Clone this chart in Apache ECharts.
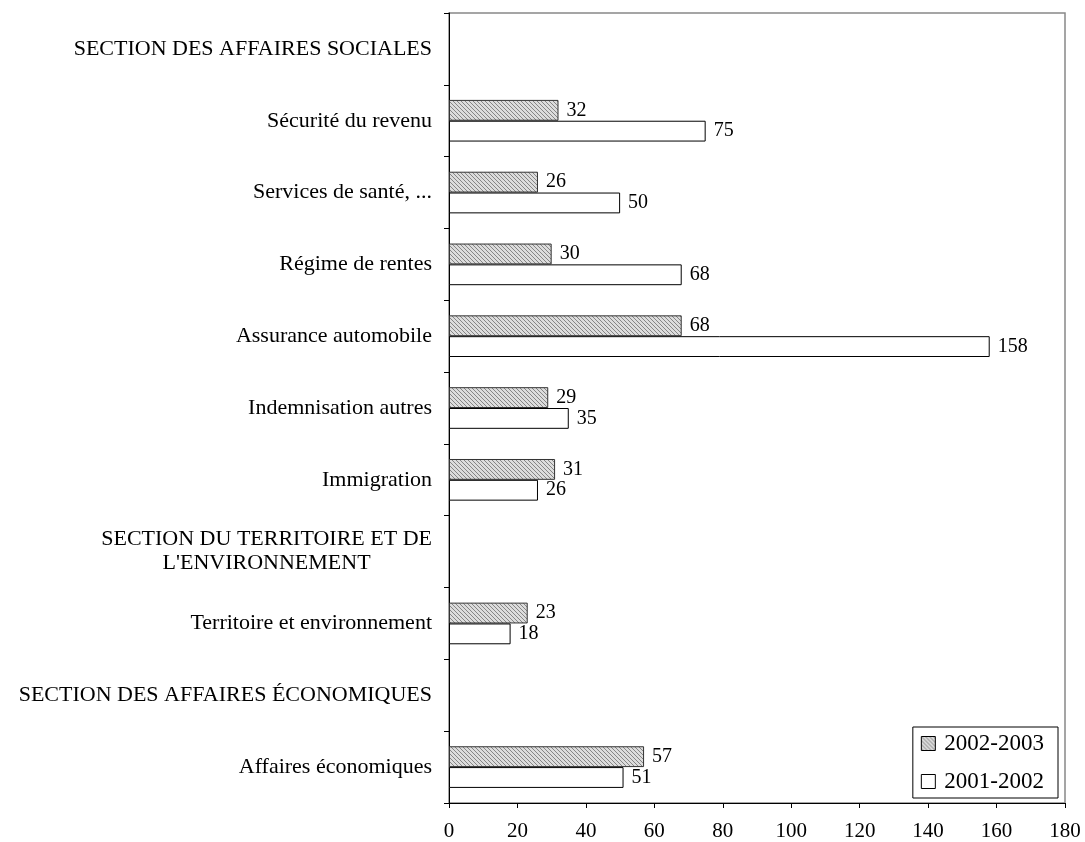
<!DOCTYPE html>
<html>
<head>
<meta charset="utf-8">
<script src="https://cdn.jsdelivr.net/npm/echarts@6/dist/echarts.min.js"></script>
<style>
html,body{margin:0;padding:0;background:#fff;}
#chart{width:1085px;height:842px;}
</style>
</head>
<body>
<div id="chart"></div>
<script>
const categories = [
  'SECTION DES AFFAIRES SOCIALES',
  'Sécurité du revenu',
  'Services de santé, ...',
  'Régime de rentes',
  'Assurance automobile',
  'Indemnisation autres',
  'Immigration',
  "SECTION DU TERRITOIRE ET DE\nL'ENVIRONNEMENT",
  'Territoire et environnement',
  'SECTION DES AFFAIRES ÉCONOMIQUES',
  'Affaires économiques'
];
const seriesNames = ['2002-2003', '2001-2002'];
const values2002_2003 = [null, 32, 26, 30, 68, 29, 31, null, 23, null, 57];
const values2001_2002 = [null, 75, 50, 68, 158, 35, 26, null, 18, null, 51];
const xTicks = [0, 20, 40, 60, 80, 100, 120, 140, 160, 180];

function makeHatch() {
  const c = document.createElement('canvas');
  c.width = 4; c.height = 4;
  const ctx = c.getContext('2d');
  ctx.fillStyle = '#dcdcdc';
  ctx.fillRect(0, 0, 4, 4);
  ctx.fillStyle = '#858585';
  for (let i = 0; i < 4; i++) ctx.fillRect(i, i, 1, 1);
  return c;
}
const hatch = {image: makeHatch(), repeat: 'repeat'};
const FONT = '"Liberation Serif", "DejaVu Serif", serif';

const chart = echarts.init(document.getElementById('chart'));
chart.setOption({
  animation: false,
  backgroundColor: '#fff',
  grid: {left: 449, right: 20, top: 13, bottom: 38, show: true, borderColor: '#888', borderWidth: 1.5, backgroundColor: 'transparent'},
  legend: {
    data: seriesNames,
    orient: 'vertical',
    right: 27, bottom: 44,
    icon: 'rect',
    itemWidth: 14, itemHeight: 14,
    itemGap: 15,
    padding: [5, 14, 5, 8],
    borderColor: '#000', borderWidth: 1,
    backgroundColor: '#fff',
    textStyle: {fontFamily: FONT, fontSize: 23, color: '#000', padding: [0, 0, 0, 4]},
    itemStyle: {borderColor: '#000', borderWidth: 1}
  },
  xAxis: {
    type: 'value', min: xTicks[0], max: xTicks[xTicks.length - 1], interval: xTicks[1] - xTicks[0],
    axisLine: {show: true, lineStyle: {color: '#000', width: 1}},
    axisTick: {show: true, length: 5, lineStyle: {color: '#000'}},
    splitLine: {show: false},
    axisLabel: {fontFamily: FONT, fontSize: 21, color: '#000', margin: 18}
  },
  yAxis: {
    type: 'category', data: categories, inverse: true,
    axisLine: {show: true, lineStyle: {color: '#000', width: 1}},
    axisTick: {show: true, length: 5, lineStyle: {color: '#000'}},
    axisLabel: {
      fontFamily: FONT, fontSize: 22, color: '#000', margin: 17,
      formatter: function (v) {
        if (v.indexOf('\n') >= 0) {
          return v.split('\n').map(s => '{c|' + s + '}').join('\n');
        }
        return v;
      },
      rich: {c: {align: 'center', fontFamily: FONT, fontSize: 22, color: '#000', lineHeight: 24}}
    }
  },
  series: [
    {
      name: seriesNames[0], type: 'bar', data: values2002_2003,
      barGap: '0%', barCategoryGap: '42%',
      itemStyle: {color: hatch, borderColor: '#333', borderWidth: 1},
      label: {show: true, position: 'right', distance: 8, fontFamily: FONT, fontSize: 20, color: '#000'}
    },
    {
      name: seriesNames[1], type: 'bar', data: values2001_2002,
      barGap: '0%', barCategoryGap: '42%',
      itemStyle: {color: '#fff', borderColor: '#000', borderWidth: 1},
      label: {show: true, position: 'right', distance: 8, fontFamily: FONT, fontSize: 20, color: '#000'}
    }
  ]
});
</script>
</body>
</html>
